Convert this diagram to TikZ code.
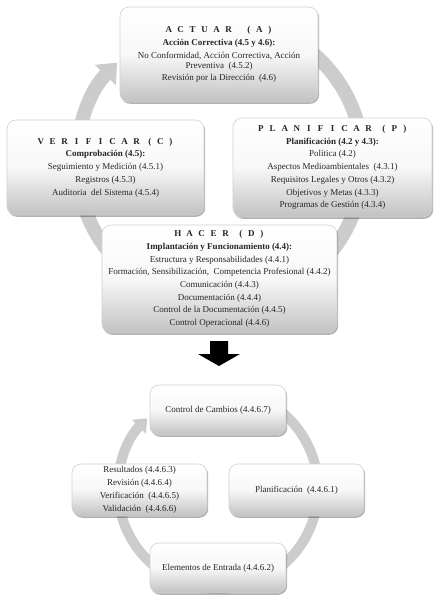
\documentclass[tikz,border=0pt]{standalone}
\usepackage{fontspec}
\setmainfont{Liberation Serif}
\usetikzlibrary{arrows.meta,shadows}
\newcommand\lsp[1]{\makebox[12pt]{#1}}
\newcommand\psp[1]{\makebox[10.5pt]{#1}}
\begin{document}
\begin{tikzpicture}[x=1pt,y=-1pt,
  box/.style={rounded corners=9pt, draw=black!18, line width=0.6pt,
    top color=white, bottom color=black!24, middle color=black!3,
    drop shadow={shadow xshift=1.2pt, shadow yshift=-1.8pt, opacity=0.3, fill=black},
    align=center, inner sep=0pt, font=\fontsize{9}{12.7}\selectfont, text=black!85},
  ringA/.style={line width=14pt, draw=black!20},
  ringB/.style={line width=10pt, draw=black!20}]
\useasboundingbox (0,0) rectangle (438,600);
\fill[white] (0,0) rectangle (438,600);
% top cycle ring
\coordinate (c1) at (220,162);
\draw[ringA] (c1) ++(-70:143) arc[start angle=-70, end angle=180, radius=143];
\draw[ringA, -{Triangle[width=28pt,length=17pt]}] (c1) ++(170:143) arc[start angle=170, end angle=224, radius=143];
% boxes top
\node[box, minimum width=198pt, minimum height=95pt] (act) at (219,54.5)
 {{\bfseries\lsp{A}\lsp{C}\lsp{T}\lsp{U}\lsp{A}\lsp{R}\hspace{9pt}\psp{(}\psp{A}\psp{)}}\\
  \textbf{Acción Correctiva (4.5 y 4.6):}\\
  No Conformidad, Acción Correctiva, Acción\\[-2.7pt]
  Preventiva\ \ (4.5.2)\\
  Revisión por la Dirección\ \ (4.6)};
\node[box, minimum width=197pt, minimum height=95pt] (ver) at (105.5,167.5)
 {{\bfseries\lsp{V}\lsp{E}\lsp{R}\lsp{I}\lsp{F}\lsp{I}\lsp{C}\lsp{A}\lsp{R}\hspace{2pt}\psp{(}\psp{C}\psp{)}}\\
  \textbf{Comprobación (4.5):}\\
  Seguimiento y Medición (4.5.1)\\
  Registros (4.5.3)\\
  Auditoria\ \ del Sistema (4.5.4)};
\node[box, minimum width=199pt, minimum height=99pt] (pla) at (332.5,167.5)
 {{\bfseries\lsp{P}\lsp{L}\lsp{A}\lsp{N}\lsp{I}\lsp{F}\lsp{I}\lsp{C}\lsp{A}\lsp{R}\hspace{4pt}\psp{(}\psp{P}\psp{)}}\\
  \textbf{Planificación (4.2 y 4.3):}\\
  Política (4.2)\\
  Aspectos Medioambientales\ \ (4.3.1)\\
  Requisitos Legales\ y Otros (4.3.2)\\
  Objetivos y Metas (4.3.3)\\
  Programas de Gestión (4.3.4)};
\node[box, minimum width=235pt, minimum height=108pt] (hac) at (219.5,279)
 {{\bfseries\lsp{H}\lsp{A}\lsp{C}\lsp{E}\lsp{R}\hspace{4pt}\psp{(}\psp{D}\psp{)}}\\
  \textbf{Implantación y Funcionamiento (4.4):}\\
  Estructura y Responsabilidades (4.4.1)\\
  Formación, Sensibilización,\ \ Competencia Profesional (4.4.2)\\
  Comunicación (4.4.3)\\
  Documentación (4.4.4)\\
  Control de la Documentación (4.4.5)\\
  Control Operacional (4.4.6)};
% down arrow
\fill[black] (210,341) -- (228,341) -- (228,354) -- (240,354) -- (219,366) -- (198,354) -- (210,354) -- cycle;
% bottom cycle ring
\coordinate (c2) at (218,489);
\draw[ringB] (c2) ++(-75:100) arc[start angle=-75, end angle=180, radius=100];
\draw[ringB, -{Triangle[width=19pt,length=12pt]}] (c2) ++(170:100) arc[start angle=170, end angle=225, radius=100];
\node[box, minimum width=136pt, minimum height=50pt] (cc) at (218,410) {Control de Cambios (4.4.6.7)};
\node[box, minimum width=135pt, minimum height=52pt] (pl) at (296.5,490) {Planificación\ \ (4.4.6.1)};
\node[box, minimum width=135pt, minimum height=52pt, font=\fontsize{9}{13}\selectfont] (rv) at (139.5,490)
 {Resultados (4.4.6.3)\\ Revisión (4.4.6.4)\\ Verificación\ \ (4.4.6.5)\\ Validación\ \ (4.4.6.6)};
\node[box, minimum width=136pt, minimum height=50pt] (el) at (218,568) {Elementos de Entrada (4.4.6.2)};
\end{tikzpicture}
\end{document}
